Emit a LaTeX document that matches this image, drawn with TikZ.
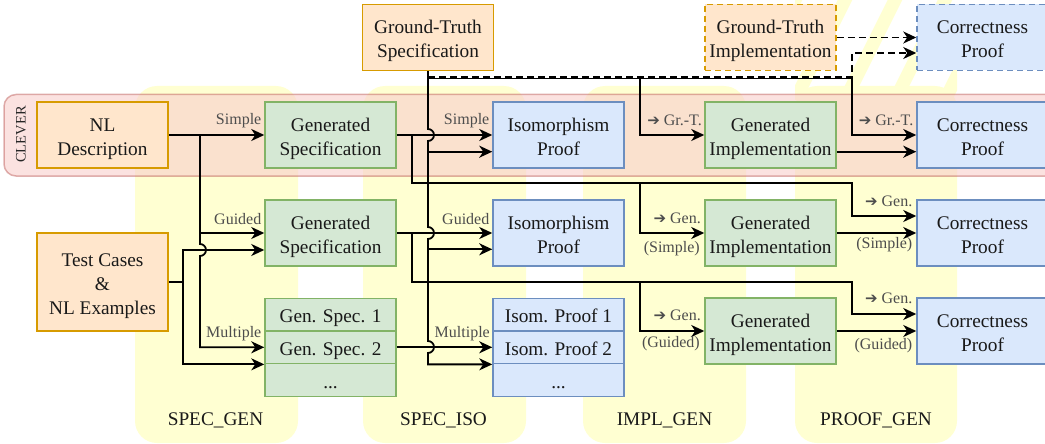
\documentclass[tikz,border=0pt]{standalone}
\usepackage{fontspec}
\setmainfont{Liberation Serif}
\newfontfamily\symfont{DejaVu Sans}
\usetikzlibrary{arrows.meta}
\definecolor{ofill}{HTML}{FFE6CC}\definecolor{odraw}{HTML}{D79B00}
\definecolor{gfill}{HTML}{D5E8D4}\definecolor{gdraw}{HTML}{82B366}
\definecolor{bfill}{HTML}{DAE8FC}\definecolor{bdraw}{HTML}{6C8EBF}
\definecolor{rfill}{HTML}{F8CECC}\definecolor{rdraw}{HTML}{B85450}
\definecolor{lanefill}{HTML}{FFFFD2}
\definecolor{lblcol}{HTML}{4D4D4D}
\newcommand{\mainsize}{\fontsize{19.3}{24}\selectfont}
\newcommand{\lblsize}{\fontsize{16}{19}\selectfont}
\newcommand{\rarr}{{\symfont\fontsize{15}{16}\selectfont ➔}}
\newcommand{\ts}{\rule{0pt}{20.2pt}}
\newcommand{\bs}{\rule[-4.2pt]{0pt}{4.2pt}}
\begin{document}
\begin{tikzpicture}[x=1pt,y=-1pt,
  box/.style={draw, line width=1.5pt, minimum width=131pt, minimum height=66pt, inner sep=0pt, align=center, font=\mainsize, text=black!90},
  obox/.style={box, fill=ofill, draw=odraw},
  gbox/.style={box, fill=gfill, draw=gdraw},
  bbox/.style={box, fill=bfill, draw=bdraw},
  dashbox/.style={dash pattern=on 6pt off 4pt},
  cellbox/.style={minimum height=32.6pt},
  tcbox/.style={minimum height=98pt},
  line/.style={line width=1.8pt, black},
  conn/.style={line, -{Stealth[length=13pt,width=12pt,inset=4pt]}},
  dconn/.style={conn, dash pattern=on 7pt off 4pt},
  lbl/.style={font=\lblsize, text=lblcol, inner sep=0pt, anchor=east},
  lane/.style={fill=lanefill, rounded corners=22pt, draw=none},
  lanetxt/.style={font=\mainsize, text=black!90}
]
\useasboundingbox (0,0) rectangle (1045,444);
% lanes
\fill[lane] (135,86) rectangle (298,443);
\fill[lane] (363,86) rectangle (526,443);
\fill[lane] (583,86) rectangle (746,443);
\fill[lane] (795,86) rectangle (957,443);
% hatch above PROOF_GEN
\begin{scope}
\clip (795,0) rectangle (957,100);
\foreach \k in {0,...,7} {\draw[lanefill, line width=13pt] (740+\k*50,110) -- ++(60,-120);}
\end{scope}
% CLEVER band
\draw[rounded corners=12pt, fill=rfill, fill opacity=0.6, draw=rdraw, draw opacity=0.45, line width=1.5pt] (4,94.5) rectangle (1075,176);
\node[rotate=90, font=\fontsize{14.5}{16}\selectfont, text=black!85] (clever) at (21,134.5) {CLEVER};
% lane labels
\node[lanetxt] (l1) at (215.5,420) {SPEC\_GEN};
\node[lanetxt] (l2) at (443.5,420) {SPEC\_ISO};
\node[lanetxt] (l3) at (664.5,420) {IMPL\_GEN};
\node[lanetxt] (l4) at (876,420) {PROOF\_GEN};
% boxes
\node[obox] (gts) at (428,37.5) {\ts Ground-Truth\\Specification\bs};
\node[obox,dashbox] (gti) at (770.5,37.5) {\ts Ground-Truth\\Implementation\bs};
\node[bbox,dashbox] (cpd) at (982.5,37.5) {\ts Correctness\\Proof\bs};
\node[obox] (nl) at (102.5,135) {\ts NL\\Description\bs};
\node[gbox] (gs1) at (330.5,135) {\ts Generated\\Specification\bs};
\node[bbox] (ip1) at (558.5,135) {\ts Isomorphism\\Proof\bs};
\node[gbox] (gi1) at (770.5,135) {\ts Generated\\Implementation\bs};
\node[bbox] (cp1) at (982.5,135) {\ts Correctness\\Proof\bs};
\node[obox,tcbox] (tc) at (102.5,282) {\ts Test Cases\\\&\\NL Examples\bs};
\node[gbox] (gs2) at (330.5,233) {\ts Generated\\Specification\bs};
\node[bbox] (ip2) at (558.5,233) {\ts Isomorphism\\Proof\bs};
\node[gbox] (gi2) at (770.5,233) {\ts Generated\\Implementation\bs};
\node[bbox] (cp2) at (982.5,233) {\ts Correctness\\Proof\bs};
\node[gbox,cellbox] (gsa) at (330.5,314.6) {\ts Gen. Spec. 1\bs};
\node[gbox,cellbox] (gsb) at (330.5,347.3) {\ts Gen. Spec. 2\bs};
\node[gbox,cellbox] (gsc) at (330.5,380) {\ts ...\bs};
\node[bbox,cellbox] (ipa) at (558.5,314.6) {\ts Isom. Proof 1\bs};
\node[bbox,cellbox] (ipb) at (558.5,347.3) {\ts Isom. Proof 2\bs};
\node[bbox,cellbox] (ipc) at (558.5,380) {\ts ...\bs};
\node[gbox] (gi3) at (770.5,331) {\ts Generated\\Implementation\bs};
\node[bbox] (cp3) at (982.5,331) {\ts Correctness\\Proof\bs};
% junction coordinates
\coordinate (j1) at (200,135);
\coordinate (j2) at (183,282);
\coordinate (j3) at (412,135);
\coordinate (j4) at (412,233);
\coordinate (g0) at (428,78.5);
\coordinate (g1) at (428,151.7);
\coordinate (g2) at (428,249.3);
\coordinate (t1) at (640,78.5);
\coordinate (t2) at (852,78.5);
\coordinate (d0) at (428,76.8);
\coordinate (d1) at (852,76.8);
\coordinate (r1) at (640,183);
\coordinate (r1e) at (852,183);
\coordinate (r2) at (640,282);
\coordinate (r2e) at (852,282);
% SPEC_GEN connectors
\draw[conn] (nl.east) -- (gs1.west);
\draw[conn] (j1) |- (gs2.west);
\draw[conn] (tc.east) -- (j2) |- ([yshift=-17pt]gs2.west);
\draw[conn] (j2) |- (gsb.south west);
\draw[conn] (j1) -- (200,244) arc[start angle=90,end angle=-90,radius=6pt] |- (gsb.west);
% SPEC_ISO connectors
\draw[conn] (gs1.east) -- (ip1.west);
\draw[conn] (gs2.east) -- (ip2.west);
\draw[conn] (gsb.east) -- (ipb.west);
\draw[conn] (gts.south) -- (428,129) arc[start angle=90,end angle=-90,radius=6pt]
  -- (428,227) arc[start angle=90,end angle=-90,radius=6pt]
  -- (428,341) arc[start angle=90,end angle=-90,radius=6pt] |- (ipb.south west);
\draw[conn] (g1) -- ([yshift=-16.7pt]ip1.west);
\draw[conn] (g2) -- ([yshift=-16.3pt]ip2.west);
% generated spec to impl / proof
\draw[conn] (j3) |- (r1e) |- ([yshift=17pt]cp2.west);
\draw[conn] (r1) |- (gi2.west);
\draw[conn] (j4) |- (r2e) |- ([yshift=17pt]cp3.west);
\draw[conn] (r2) |- (gi3.west);
% ground truth top lines
\draw[conn] (g0) -- (t1) |- (gi1.west);
\draw[conn] (t1) -- (t2) |- (cp1.west);
\draw[dconn, line width=1.5pt] (d0) -- (d1) |- ([yshift=-15.5pt]cpd.west);
\draw[dconn] (gti.east) -- (cpd.west);
% impl to proof
\draw[conn] ([yshift=-16.7pt]gi1.east) -- ([yshift=-16.7pt]cp1.west);
\draw[conn] (gi2.east) -- (cp2.west);
\draw[conn] (gi3.east) -- (cp3.west);
% labels
\node[lbl] (s1) at (261.5,121) {Simple};
\node[lbl] (s2) at (261.5,219.5) {Guided};
\node[lbl] (s3) at (261.5,333.5) {Multiple};
\node[lbl] (i1) at (489.5,121) {Simple};
\node[lbl] (i2) at (489.5,219.5) {Guided};
\node[lbl] (i3) at (490,333.5) {Multiple};
\node[lbl] (m1) at (702,120) {\rarr\ Gr.-T.};
\node[lbl] (m2) at (701,218) {\rarr\ Gen.};
\node[lbl] (m3) at (700,248.5) {(Simple)};
\node[lbl] (m4) at (701,315) {\rarr\ Gen.};
\node[lbl] (m5) at (700,343.5) {(Guided)};
\node[lbl] (p1) at (913.5,120) {\rarr\ Gr.-T.};
\node[lbl] (p2) at (912.5,201) {\rarr\ Gen.};
\node[lbl] (p3) at (912.5,245) {(Simple)};
\node[lbl] (p4) at (912.5,298.5) {\rarr\ Gen.};
\node[lbl] (p5) at (912.5,346) {(Guided)};
\end{tikzpicture}
\end{document}
